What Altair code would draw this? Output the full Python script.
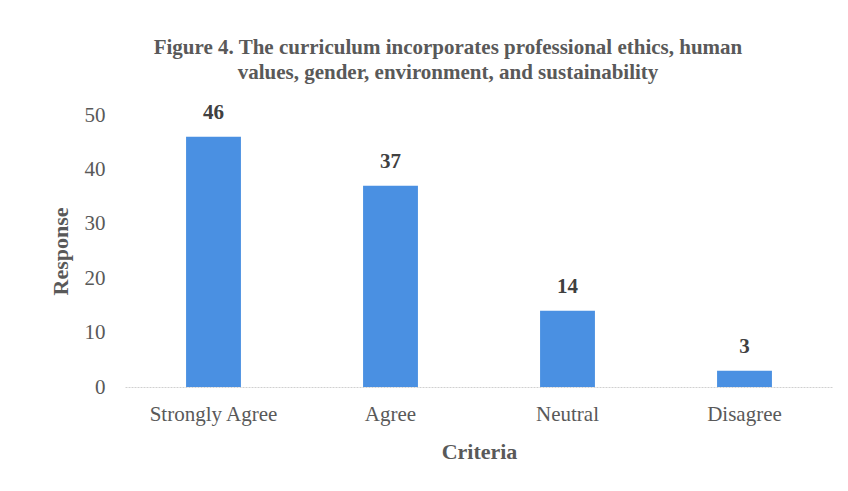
import altair as alt
import pandas as pd

categories = ["Strongly Agree", "Agree", "Neutral", "Disagree"]
responses = [46, 37, 14, 3]

df = pd.DataFrame({"Criteria": categories, "Response": responses})

FONT = "Liberation Serif"
GRAY = "#595959"

base = alt.Chart(df).encode(
    x=alt.X("Criteria:N", sort=categories,
            scale=alt.Scale(paddingInner=0.69, paddingOuter=0.345),
            axis=alt.Axis(title="Criteria", labelAngle=0, labelFont=FONT, labelFontSize=21,
                          labelColor=GRAY, labelPadding=16, titleFont=FONT, titleFontSize=22,
                          titleFontWeight="bold", titleColor=GRAY, titlePadding=17,
                          ticks=False, domainColor="#d0d0d0", domainDash=[2, 1], grid=False)),
    y=alt.Y("Response:Q", scale=alt.Scale(domain=[0, 50]),
            axis=alt.Axis(title="Response", values=[0, 10, 20, 30, 40, 50], labelFont=FONT,
                          labelFontSize=21, labelColor=GRAY, labelPadding=20, titleFont=FONT,
                          titleFontSize=22, titleFontWeight="bold", titleColor=GRAY,
                          titlePadding=12, ticks=False, domain=False, grid=False)),
)

bars = base.mark_bar(color="#4A90E2")
labels = base.mark_text(dy=-14, baseline="bottom", font=FONT, fontSize=21,
                        fontWeight="bold", color="#404040").encode(text="Response:Q")

chart = (bars + labels).properties(
    width=708, height=272,
    background="white",
    autosize=alt.AutoSizeParams(type="none"),
    padding={"left": 117, "top": 107, "right": 7, "bottom": 96},
    title=alt.TitleParams(
        ["Figure 4. The curriculum  incorporates professional ethics, human",
         "values, gender, environment, and sustainability"],
        font=FONT, fontSize=21, fontWeight="bold", color=GRAY, anchor="middle",
        dx=-31, offset=19, lineHeight=25),
).configure_view(strokeWidth=0, stroke="transparent")

chart.save("out.html", embed_options={"renderer": "svg", "actions": False})
